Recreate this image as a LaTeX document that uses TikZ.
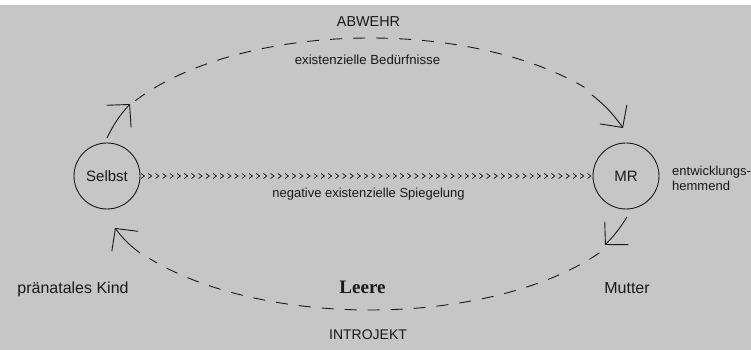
\documentclass[tikz,border=0pt]{standalone}
\usepackage{fontspec}
\setmainfont{Liberation Sans}
\newfontfamily\leerefont{Liberation Serif}
\usetikzlibrary{arrows.meta,decorations.markings,calc}
\definecolor{bg}{RGB}{198,198,198}
\definecolor{ink}{RGB}{25,25,25}
\begin{document}
\begin{tikzpicture}[x=1pt,y=1pt,
  circ/.style={draw=ink,circle,minimum size=66pt,inner sep=0pt,line width=0.9pt,text=ink,font=\fontsize{15}{18}\selectfont},
  lbl/.style={inner sep=0pt,anchor=base,text=ink},
  solidarr/.style={draw=ink,line width=0.9pt,-{Straight Barb[length=16pt,width=33pt,line width=0.9pt]}},
  dashline/.style={draw=ink,line width=0.9pt,dash pattern=on 12pt off 11pt},
  chev/.style={decoration={markings,mark=between positions 3pt and -0.5pt step 7.2pt with {\draw[ink,line width=0.75pt] (-2.4pt,2.5pt) -- (1pt,0pt) -- (-2.4pt,-2.5pt);}},postaction={decorate}}
]
\fill[white] (0,0) rectangle (751,350);
\fill[bg] (0,0) rectangle (751,345);
\useasboundingbox (0,0) rectangle (751,350);

\node[circ] (S) at (107,174) {Selbst};
\node[circ] (M) at (626,174) {MR};

\path[chev] (S.east) -- (M.west);

% ellipse centre
\coordinate (C) at (370,174);

% top arc: Selbst -> MR
\coordinate (a0) at (107,212);
\coordinate (a1) at (130,246);
\coordinate (d0) at ($(C)+(147:280pt and 138pt)$);
\coordinate (a2) at (592,255);
\coordinate (a3) at (623,222);
\draw[solidarr] (a0) to[bend left=8] (a1);
\draw[dashline] (d0) arc[start angle=147,end angle=40,x radius=280pt,y radius=138pt];
\draw[solidarr] (a2) to[bend left=8] (a3);

% bottom arc: MR -> Selbst
\coordinate (b0) at (627,133);
\coordinate (b1) at (605,105);
\coordinate (e0) at ($(C)+(-35:280pt and 134pt)$);
\coordinate (b2) at (140,97);
\coordinate (b3) at (115,122);
\draw[solidarr] (b0) to[bend left=6] (b1);
\draw[dashline] (e0) arc[start angle=-35,end angle=-142,x radius=280pt,y radius=134pt];
\draw[solidarr] (b2) to[bend left=8] (b3);

% labels
\node[lbl,font=\fontsize{14.4}{17}\selectfont] (abw) at (368.5,323) {ABWEHR};
\node[lbl,font=\fontsize{13.2}{16}\selectfont] (bed) at (367.5,285) {existenzielle Bedürfnisse};
\node[lbl,font=\fontsize{13}{16}\selectfont] (spg) at (368.5,152) {negative existenzielle Spiegelung};
\node[inner sep=0pt,anchor=north west,align=left,text=ink,font=\fontsize{13}{15}\selectfont] (ent) at (672,184.5) {entwicklungs-\\hemmend};
\node[lbl,font=\fontsize{16}{19}\selectfont] (kind) at (73,56) {pränatales Kind};
\node[lbl,font=\fontsize{16}{19}\selectfont] (mut) at (627,56) {Mutter};
\node[lbl,font=\leerefont\bfseries\fontsize{19}{22}\selectfont] (lee) at (362.5,56) {Leere};
\node[lbl,font=\fontsize{14}{17}\selectfont] (intro) at (368,10) {INTROJEKT};
\end{tikzpicture}
\end{document}
